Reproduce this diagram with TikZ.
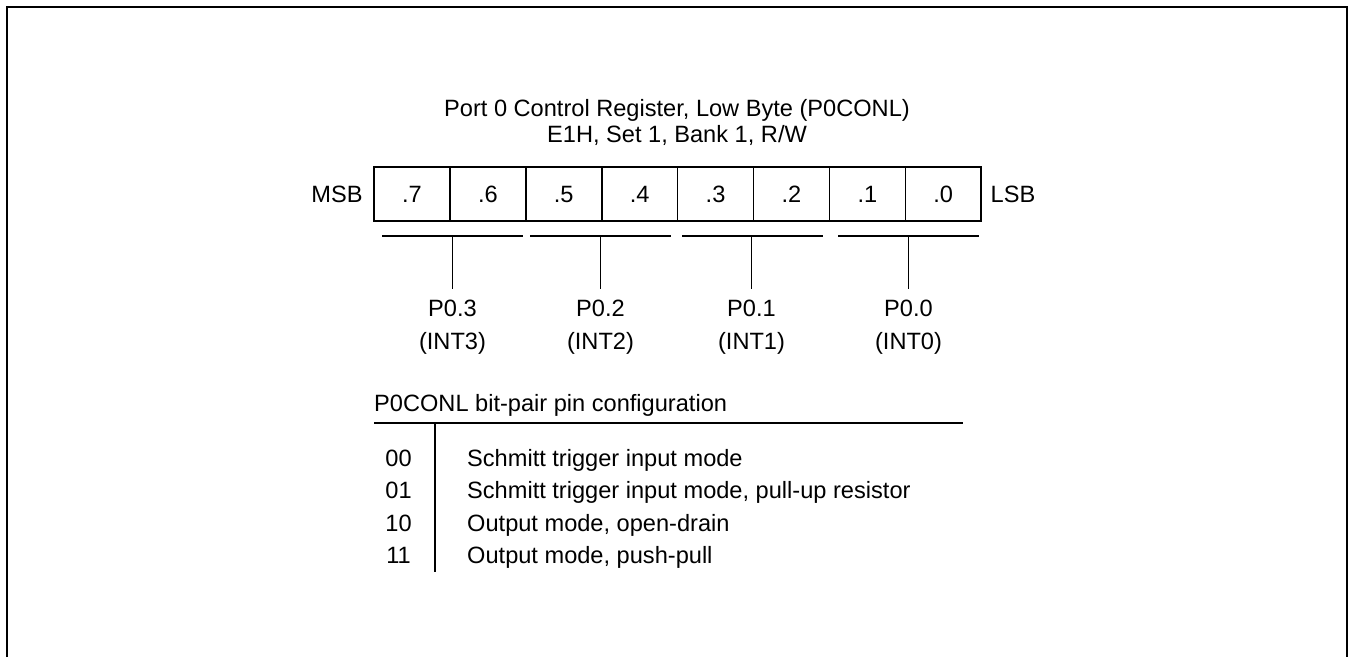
\documentclass[tikz,border=0pt]{standalone}
\usepackage{fontspec}
\setmainfont{Liberation Sans}
\begin{document}
\begin{tikzpicture}[x=1pt,y=-1pt,
  txt/.style={font=\fontsize{23.6}{26}\selectfont, inner sep=0pt, anchor=base},
  cell/.style={draw, line width=1.6pt, minimum width=75.9pt, minimum height=54pt, inner sep=0pt, font=\fontsize{23.6}{26}\selectfont},
  rule/.style={line width=1.6pt},
  frame/.style={line width=2pt}]
\useasboundingbox (0,0) rectangle (1348,657);
% outer frame (open at the bottom)
\coordinate (fbl) at (6.5,657);
\coordinate (ftl) at (6.5,6.5);
\coordinate (ftr) at (1346.5,6.5);
\coordinate (fbr) at (1346.5,657);
\draw[frame] (fbl) -- (ftl) -- (ftr) -- (fbr);
% title
\node[txt] (t1) at (677,116.5) {Port 0 Control Register, Low Byte (P0CONL)};
\node[txt] (t2) at (677,142.5) {E1H, Set 1, Bank 1, R/W};
% register cells
\foreach \i/\b in {0/7,1/6,2/5,3/4,4/3,5/2,6/1,7/0} {
  \node[cell] (c\b) at ({374+75.9*(\i+0.5)},194) {.\b};
}
\node[txt] (msb) at (337,202.5) {MSB};
\node[txt] (lsb) at (1013,202.5) {LSB};
% brackets
\coordinate (b3l) at (382,236); \coordinate (b3r) at (523,236); \coordinate (b3m) at (452.5,236);
\coordinate (b2l) at (530,236); \coordinate (b2r) at (671,236); \coordinate (b2m) at (600.5,236);
\coordinate (b1l) at (682,236); \coordinate (b1r) at (823,236); \coordinate (b1m) at (751.5,236);
\coordinate (b0l) at (838,236); \coordinate (b0r) at (979,236); \coordinate (b0m) at (908.5,236);
\foreach \k in {3,2,1,0} {
  \draw[rule] (b\k l) -- (b\k r);
}
\foreach \k/\x in {3/452.5,2/600.5,1/751.5,0/908.5} {
  \coordinate (e\k) at (\x,289);
  \draw[rule] (b\k m) -- (e\k);
  \node[txt] (p\k) at (\x,316.5) {P0.\k};
  \node[txt] (n\k) at (\x,349.5) {(INT\k)};
}
% configuration table
\node[txt, anchor=base west] (hd) at (374,411.5) {P0CONL bit-pair pin configuration};
\coordinate (hl) at (374,423); \coordinate (hr) at (963,423);
\draw[rule] (hl) -- (hr);
\coordinate (vt) at (435,423); \coordinate (vb) at (435,572);
\draw[rule] (vt) -- (vb);
\foreach \r/\c/\d in {0/00/Schmitt trigger input mode,
                      1/01/{Schmitt trigger input mode, pull-up resistor},
                      2/10/{Output mode, open-drain},
                      3/11/{Output mode, push-pull}} {
  \node[txt] (k\r) at (398.5,{466.5+32.3*\r}) {\c};
  \node[txt, anchor=base west] (d\r) at (467,{466.5+32.3*\r}) {\d};
}
\end{tikzpicture}
\end{document}
